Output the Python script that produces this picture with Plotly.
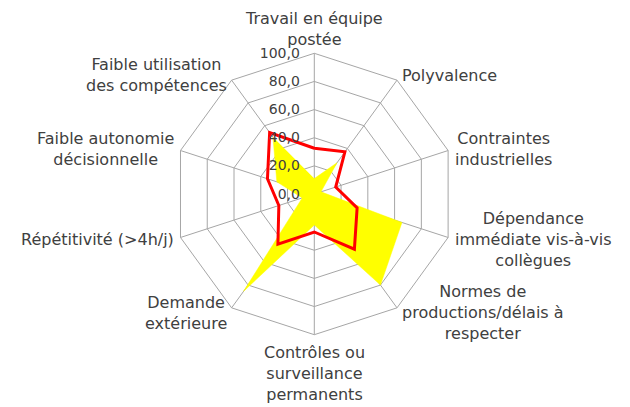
import math
import plotly.graph_objects as go

# ---- data ----
categories = [
    "Travail en équipe<br>postée",
    "Polyvalence",
    "Contraintes<br>industrielles",
    "Dépendance<br>immédiate vis-à-vis<br>collègues",
    "Normes de<br>productions/délais à<br>respecter",
    "Contrôles ou<br>surveillance<br>permanents",
    "Demande<br>extérieure",
    "Répétitivité (>4h/j)",
    "Faible autonomie<br>décisionnelle",
    "Faible utilisation<br>des compétences",
]
serie_jaune = [11, 27.5, 5, 65.5, 80, 22, 85.5, 9, 28, 50]
serie_rouge = [32.5, 37, 16, 32, 48.5, 27, 44, 26.5, 35, 54]
radial_ticks = [0, 20, 40, 60, 80, 100]

# ---- layout constants (pixels) ----
W, H = 630, 407
CX, CY, R = 314.3, 194.0, 140.7
FONT = "Verdana, DejaVu Sans, sans-serif"
TXT = "#404040"
GRID = "#a6a6a6"

fig = go.Figure()
fig.add_trace(go.Scatterpolar(
    r=serie_jaune, theta=categories, fill="toself", fillcolor="#ffff00",
    mode="lines", line=dict(color="#ffff00", width=0.5), showlegend=False,
    hoverinfo="skip"))
fig.add_trace(go.Scatterpolar(
    r=serie_rouge + serie_rouge[:1], theta=categories + categories[:1],
    mode="lines", line=dict(color="#ff0000", width=3), showlegend=False,
    hoverinfo="skip"))

annotations = []
n = len(categories)
for i, lab in enumerate(categories):
    ang = math.radians(90 - 360 / n * i)
    c, s = math.cos(ang), math.sin(ang)
    vx, vy = CX + R * c, CY - R * s
    if c > 0.1:
        xa = "left"
    elif c < -0.1:
        xa = "right"
    else:
        xa = "center"
    ysh = 6 * s
    if s > 0.9:
        ya = "bottom"
        ysh = 2
    elif s < -0.9:
        ya = "top"
    else:
        ya = "middle"
    annotations.append(dict(
        x=vx / W, y=1 - vy / H, xref="paper", yref="paper", text=lab,
        showarrow=False, xanchor=xa, yanchor=ya, align="center",
        xshift=5 * c, yshift=ysh,
        font=dict(family=FONT, size=16, color=TXT)))

fig.update_layout(
    width=W, height=H,
    margin=dict(l=0, r=0, t=0, b=0),
    paper_bgcolor="white",
    separators=", ",
    annotations=annotations,
    polar=dict(
        domain=dict(x=[(CX - R) / W, (CX + R) / W],
                    y=[1 - (CY + R) / H, 1 - (CY - R) / H]),
        bgcolor="white",
        gridshape="linear",
        angularaxis=dict(
            rotation=90, direction="clockwise",
            showticklabels=False, ticks="",
            showgrid=True, gridcolor=GRID, gridwidth=1,
            showline=True, linecolor=GRID, linewidth=1),
        radialaxis=dict(
            range=[0, 100], tickvals=radial_ticks, tickformat=".1f",
            angle=90, tickangle=90, side="counterclockwise",
            ticks="outside", ticklen=9, tickcolor="rgba(0,0,0,0)",
            showline=False,
            showgrid=True, gridcolor=GRID, gridwidth=1,
            tickfont=dict(family=FONT, size=14, color=TXT)),
    ),
)

fig.write_html(
    "out.html",
    config={"displayModeBar": False},
    post_script="document.body.style.margin='0';document.body.style.overflow='hidden';",
)
